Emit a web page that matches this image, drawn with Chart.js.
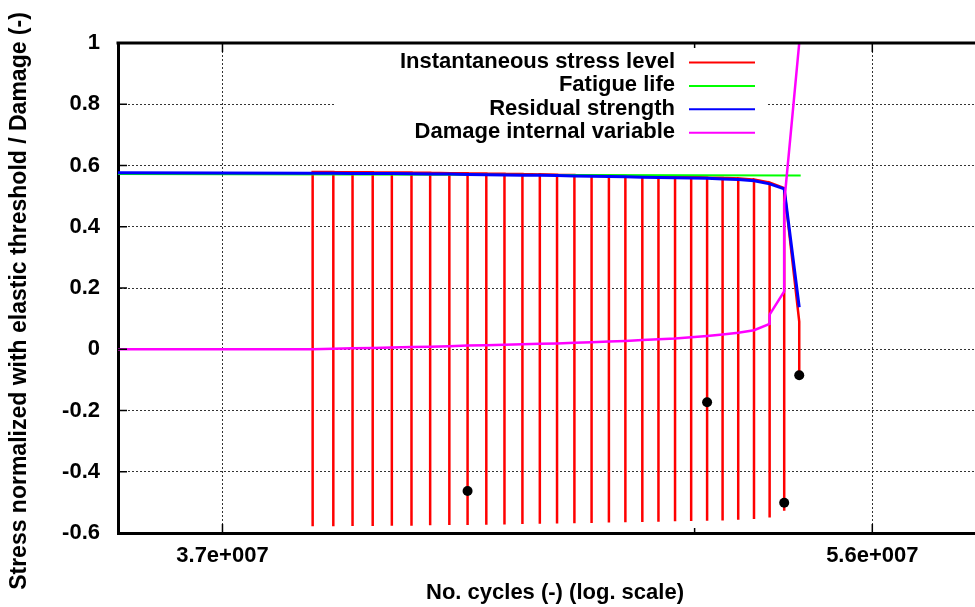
<!DOCTYPE html>
<html>
<head>
<meta charset="utf-8">
<title>Contrainte / endommagement</title>
<script src="https://cdn.jsdelivr.net/npm/chart.js@4.4.1/dist/chart.umd.min.js"></script>
<style>
    body { margin: 0; background: #fff; }
    canvas { display: block; }
</style>
</head>
<body>
<canvas id="graphique" width="975" height="607"></canvas>
<script>
// Cycles de chaque bloc de chargement
const cycles = [3.919e7, 3.971e7, 4.020e7, 4.072e7, 4.122e7, 4.174e7, 4.224e7, 4.276e7, 4.326e7, 4.378e7,
                4.429e7, 4.480e7, 4.530e7, 4.580e7, 4.631e7, 4.682e7, 4.734e7, 4.784e7, 4.836e7, 4.886e7,
                4.938e7, 4.989e7, 5.040e7, 5.090e7, 5.141e7, 5.193e7, 5.245e7, 5.294e7, 5.345e7];
const contrainteMax = [0.579, 0.579, 0.578, 0.578, 0.577, 0.577, 0.576, 0.575, 0.575, 0.574,
                       0.573, 0.572, 0.571, 0.570, 0.569, 0.568, 0.567, 0.566, 0.565, 0.564,
                       0.563, 0.562, 0.561, 0.560, 0.558, 0.554, 0.544, 0.526, 0.090];
const contrainteMin = [-0.578, -0.578, -0.577, -0.577, -0.576, -0.576, -0.575, -0.574, -0.574, -0.573,
                       -0.572, -0.571, -0.570, -0.569, -0.568, -0.567, -0.566, -0.565, -0.564, -0.563,
                       -0.562, -0.561, -0.560, -0.559, -0.557, -0.554, -0.549, -0.527, -0.085];

// Résistance résiduelle
const cyclesResistance = [3.4615e7, 3.919e7, 3.971e7, 4.020e7, 4.072e7, 4.122e7, 4.174e7, 4.224e7, 4.276e7, 4.326e7,
                          4.378e7, 4.429e7, 4.480e7, 4.530e7, 4.580e7, 4.631e7, 4.682e7, 4.734e7, 4.784e7, 4.836e7,
                          4.886e7, 4.938e7, 4.989e7, 5.040e7, 5.090e7, 5.141e7, 5.193e7, 5.245e7, 5.294e7, 5.345e7];
const resistance = [0.576, 0.575, 0.575, 0.574, 0.574, 0.574, 0.573, 0.572, 0.572, 0.571,
                    0.570, 0.569, 0.568, 0.568, 0.567, 0.566, 0.565, 0.564, 0.563, 0.562,
                    0.561, 0.560, 0.559, 0.558, 0.556, 0.554, 0.550, 0.540, 0.524, 0.137];

// Durée de vie en fatigue
const cyclesVie = [3.4615e7, 5.350e7];
const vieFatigue = [0.572, 0.567];

// Variable interne d'endommagement
const cyclesEndo = [3.4615e7, 3.919e7, 3.971e7, 4.020e7, 4.072e7, 4.122e7, 4.174e7, 4.224e7, 4.276e7, 4.326e7,
                    4.378e7, 4.429e7, 4.480e7, 4.530e7, 4.580e7, 4.631e7, 4.682e7, 4.734e7, 4.784e7, 4.836e7,
                    4.886e7, 4.938e7, 4.989e7, 5.040e7, 5.090e7, 5.141e7, 5.193e7, 5.245e7, 5.245e7, 5.294e7,
                    5.294e7, 5.345e7];
const endommagement = [0.000, 0.000, 0.002, 0.003, 0.004, 0.006, 0.007, 0.008, 0.010, 0.012,
                       0.013, 0.015, 0.016, 0.018, 0.019, 0.021, 0.023, 0.025, 0.027, 0.030,
                       0.033, 0.035, 0.039, 0.043, 0.048, 0.054, 0.062, 0.083, 0.113, 0.189,
                       0.478, 1.000];

// Points noirs
const cyclesPoints = [4.326e7, 5.040e7, 5.294e7, 5.345e7];
const valeursPoints = [-0.463, -0.173, -0.501, -0.085];

// Axes
const xMin = 3.4615e7;
const xMax = 5.979e7;
const xTickValues = [3.7e7, 5.0e7, 5.6e7];
const xTickLabels = ["3.7e+007", "", "5.6e+007"];
const yTickValues = [-0.6, -0.4, -0.2, 0, 0.2, 0.4, 0.6, 0.8, 1];
const yTickLabels = ["-0.6", "-0.4", "-0.2", "0", "0.2", "0.4", "0.6", "0.8", "1"];
const titreX = "No. cycles (-) (log. scale)";
const titreY = "Stress normalized with elastic threshold / Damage (-)";

const police = { family: "'Liberation Sans', Arial, sans-serif", weight: "bold", size: 22 };

function enPoints(xs, ys) {
    return xs.map((x, i) => ({ x: x, y: ys[i] }));
}

// Trajet de la contrainte : max -> min -> max à chaque bloc
const trajetContrainte = [];
cycles.forEach((c, i) => {
    trajetContrainte.push({ x: c, y: contrainteMax[i] }, { x: c, y: contrainteMin[i] }, { x: c, y: contrainteMax[i] });
});

const ligne = (ctx, x1, y1, x2, y2) => {
    ctx.beginPath();
    ctx.moveTo(x1, y1);
    ctx.lineTo(x2, y2);
    ctx.stroke();
};

// Cadre, graduations intérieures, titres et légende façon gnuplot
const cadre = {
    id: "cadre",
    beforeDatasetsDraw(chart) {
        const ctx = chart.ctx;
        ctx.save();
        ctx.fillStyle = "#fff";
        ctx.fillRect(335, 46, 432, 100);
        ctx.restore();
    },
    afterDatasetsDraw(chart) {
        const { ctx, chartArea: a, scales: { x, y } } = chart;
        ctx.save();
        ctx.strokeStyle = "#000";
        ctx.lineWidth = 3;
        ligne(ctx, a.left - 1.5, a.top, a.right, a.top);

        ctx.lineWidth = 1.5;
        yTickValues.forEach(v => {
            const py = y.getPixelForValue(v);
            ligne(ctx, a.left, py, a.left + 9, py);
        });
        xTickValues.forEach((v, i) => {
            const px = x.getPixelForValue(v);
            const l = xTickLabels[i] ? 9 : 5;
            ligne(ctx, px, a.bottom, px, a.bottom - l);
            ligne(ctx, px, a.top, px, a.top + l);
        });

        ctx.font = `${police.weight} ${police.size}px ${police.family}`;
        ctx.textBaseline = "middle";
        ctx.fillStyle = "#000";

        // titres des axes
        ctx.textAlign = "center";
        ctx.fillText(titreX, 555, 593);
        ctx.save();
        ctx.translate(20, 301);
        ctx.rotate(-Math.PI / 2);
        ctx.font = `${police.weight} 23px ${police.family}`;
        ctx.fillText(titreY, 0, 0);
        ctx.restore();

        // légende
        ctx.textAlign = "right";
        let rang = 0;
        chart.data.datasets.forEach(ds => {
            if (!ds.dansLegende) return;
            const py = 62 + rang * 23.4;
            ctx.fillText(ds.label, 675, py);
            ctx.strokeStyle = ds.borderColor;
            ctx.lineWidth = 2;
            ligne(ctx, 689, py + 0.5, 755, py + 0.5);
            rang++;
        });
        ctx.restore();
    }
};

const ctx = document.getElementById("graphique").getContext("2d");

new Chart(ctx, {
    type: "scatter",
    data: {
        datasets: [
            {
                label: "Instantaneous stress level",
                data: trajetContrainte,
                showLine: true,
                borderColor: "#ff0000",
                borderWidth: 2.5,
                pointRadius: 0,
                order: 4,
                dansLegende: true
            },
            {
                label: "Fatigue life",
                data: enPoints(cyclesVie, vieFatigue),
                showLine: true,
                borderColor: "#00ff00",
                borderWidth: 2,
                pointRadius: 0,
                order: 3,
                dansLegende: true
            },
            {
                label: "Residual strength",
                data: enPoints(cyclesResistance, resistance),
                showLine: true,
                borderColor: "#0000ff",
                borderWidth: 3,
                pointRadius: 0,
                order: 2,
                dansLegende: true
            },
            {
                label: "Damage internal variable",
                data: enPoints(cyclesEndo, endommagement),
                showLine: true,
                borderColor: "#ff00ff",
                borderWidth: 2.5,
                pointRadius: 0,
                order: 1,
                dansLegende: true
            },
            {
                label: "points",
                data: enPoints(cyclesPoints, valeursPoints),
                showLine: false,
                pointRadius: 5,
                pointBackgroundColor: "#000",
                pointBorderWidth: 0,
                order: 0
            }
        ]
    },
    options: {
        responsive: false,
        animation: false,
        layout: { autoPadding: false, padding: { top: 43, right: 0, bottom: 0, left: 0 } },
        plugins: {
            legend: { display: false },
            tooltip: { enabled: false }
        },
        scales: {
            x: {
                type: "logarithmic",
                min: xMin,
                max: xMax,
                bounds: "data",
                afterBuildTicks: s => { s.ticks = xTickValues.map(v => ({ value: v })); },
                afterFit: s => { s.height = 74; s.paddingLeft = 0; s.paddingRight = 0; },
                ticks: {
                    callback: (v, i) => xTickLabels[i],
                    autoSkip: false,
                    maxRotation: 0,
                    padding: 10,
                    color: "#000",
                    font: police
                },
                grid: {
                    drawTicks: false,
                    lineWidth: 1,
                    color: c => (xTickLabels[c.index] ? "#333" : "rgba(0,0,0,0)")
                },
                border: { display: true, color: "#000", width: 3, dash: [2, 2] }
            },
            y: {
                min: -0.6,
                max: 1,
                afterBuildTicks: s => { s.ticks = yTickValues.map(v => ({ value: v })); },
                afterFit: s => { s.width = 118; s.paddingTop = 0; s.paddingBottom = 0; },
                ticks: {
                    callback: (v, i) => yTickLabels[i],
                    padding: 18,
                    color: "#000",
                    font: police
                },
                grid: { drawTicks: false, lineWidth: 1, color: "#333" },
                border: { display: true, color: "#000", width: 3, dash: [2, 2] }
            }
        }
    },
    plugins: [cadre]
});
</script>
</body>
</html>
